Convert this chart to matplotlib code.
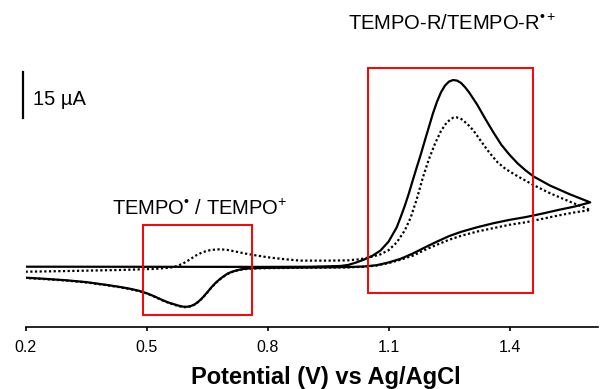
import matplotlib
matplotlib.use("Agg")
import matplotlib.pyplot as plt
from matplotlib.patches import Rectangle

plt.rcParams['font.family'] = ['Liberation Sans', 'DejaVu Sans']
plt.rcParams['mathtext.fontset'] = 'custom'
plt.rcParams['mathtext.rm'] = 'Liberation Sans'
plt.rcParams['mathtext.it'] = 'Liberation Sans'
plt.rcParams['mathtext.bf'] = 'Liberation Sans:bold'

# ---- data (potential in V vs Ag/AgCl, current in uA) ----
# solid CV: forward 0.2 -> 1.6 V, then reverse 1.6 -> 0.2 V
solid_v = [0.200, 0.500, 0.800, 0.900, 0.950, 0.980, 1.000, 1.020, 1.040, 1.060,
           1.080, 1.100, 1.120, 1.130, 1.140, 1.150, 1.160, 1.170, 1.180, 1.190,
           1.200, 1.210, 1.220, 1.230, 1.240, 1.250, 1.260, 1.270, 1.280, 1.290,
           1.300, 1.320, 1.340, 1.360, 1.380, 1.400, 1.420, 1.440, 1.460, 1.500,
           1.550, 1.600,
           1.560, 1.520, 1.480, 1.440, 1.400, 1.360, 1.320, 1.280, 1.250, 1.220,
           1.190, 1.160, 1.130, 1.100, 1.070, 1.040, 1.000, 0.900, 0.800, 0.780,
           0.760, 0.740, 0.725, 0.710, 0.700, 0.690, 0.680, 0.670, 0.660, 0.650,
           0.640, 0.630, 0.620, 0.610, 0.600, 0.590, 0.580, 0.570, 0.555, 0.540,
           0.520, 0.500, 0.480, 0.460, 0.430, 0.400, 0.350, 0.300, 0.250, 0.200]
solid_i = [0.42, 0.39, 0.36, 0.40, 0.55, 0.65, 1.00, 1.80, 2.80, 4.00,
           5.70, 8.60, 13.2, 16.6, 20.2, 24.2, 28.6, 32.9, 37.1, 41.6,
           46.0, 50.4, 54.2, 57.3, 59.5, 60.8, 61.3, 61.1, 60.3, 58.9,
           57.2, 53.2, 48.6, 44.2, 40.1, 36.9, 34.1, 31.8, 29.8, 26.9,
           24.0, 21.4,
           20.0, 18.9, 17.7, 16.6, 15.7, 14.6, 13.3, 11.8, 10.4, 8.6,
           6.7, 4.7, 3.0, 1.8, 0.9, 0.5, 0.3, 0.15, 0.05, 0.0,
           -0.1, -0.3, -0.7, -1.3, -1.9, -2.8, -3.8, -5.0, -6.4, -8.0,
           -9.5, -10.8, -11.8, -12.4, -12.65, -12.6, -12.3, -11.9, -11.3, -10.5,
           -9.3, -8.2, -7.4, -6.8, -6.1, -5.5, -4.6, -4.0, -3.55, -3.16]

# dotted CV (second scan)
dotted_v = [0.200, 0.300, 0.434, 0.520, 0.558, 0.575, 0.591, 0.605, 0.624, 0.640,
            0.660, 0.682, 0.700, 0.723, 0.745, 0.765, 0.800, 0.840, 0.880, 0.950,
            1.000, 1.029, 1.050, 1.079, 1.100, 1.120, 1.140, 1.155, 1.170, 1.185,
            1.200, 1.215, 1.230, 1.245, 1.260, 1.268, 1.280, 1.295, 1.310, 1.330,
            1.350, 1.370, 1.390, 1.420, 1.460, 1.500, 1.550, 1.600,
            1.560, 1.520, 1.480, 1.440, 1.400, 1.360, 1.320, 1.280, 1.250, 1.220,
            1.190, 1.160, 1.130, 1.100, 1.070, 1.040, 1.000, 0.900, 0.800, 0.780,
            0.760, 0.740, 0.725, 0.710, 0.700, 0.690, 0.680, 0.670, 0.660, 0.650,
            0.640, 0.630, 0.620, 0.610, 0.600, 0.590, 0.580, 0.570, 0.555, 0.540,
            0.520, 0.500, 0.480, 0.460, 0.430, 0.400, 0.350, 0.300, 0.250, 0.200]
dotted_i = [-1.21, -1.00, -0.65, -0.30, 0.10, 0.60, 1.50, 2.60, 4.20, 5.20,
            5.90, 6.10, 5.90, 5.30, 4.70, 4.24, 3.50, 2.90, 2.40, 2.40,
            2.50, 2.84, 3.40, 4.40, 5.80, 8.30, 12.2, 16.5, 22.5, 29.5,
            35.5, 40.5, 44.7, 47.6, 49.0, 49.15, 48.6, 47.0, 44.9, 41.2,
            37.6, 34.5, 32.3, 29.9, 27.0, 24.4, 21.6, 18.9,
            18.1, 17.1, 16.0, 14.9, 14.1, 13.0, 11.9, 10.5, 9.2, 7.6,
            5.9, 4.0, 2.7, 1.6, 0.8, 0.4, 0.2, 0.08, -0.05, -0.1,
            -0.2, -0.4, -0.8, -1.4, -2.0, -2.9, -3.9, -5.1, -6.5, -8.1,
            -9.6, -10.9, -11.9, -12.5, -12.8, -12.75, -12.45, -12.05, -11.4, -10.6,
            -9.4, -8.3, -7.5, -6.9, -6.2, -5.6, -4.7, -4.1, -3.65, -3.26]

tick_values = [0.2, 0.5, 0.8, 1.1, 1.4]
tick_labels = ['0.2', '0.5', '0.8', '1.1', '1.4']

W, H = 600, 389
fig = plt.figure(figsize=(W / 100, H / 100), dpi=100)
ax = fig.add_axes([25.6 / W, (H - 327.3) / H, 572.7 / W, 327.3 / H])
ax.set_xlim(0.2, 1.62)
ax.set_ylim(-19.34, 87.39)

ax.plot(solid_v, solid_i, color='black', lw=1.6, solid_joinstyle='round')
ax.plot(dotted_v, dotted_i, color='black', lw=1.6, linestyle=(0, (1, 1.1)))

# red boxes
ax.add_patch(Rectangle((0.4918, -15.33), 0.7606 - 0.4918, 14.02 + 15.33,
                       fill=False, edgecolor='#ff0000', lw=1.4, zorder=3))
ax.add_patch(Rectangle((1.0498, -8.25), 1.4589 - 1.0498, 65.12 + 8.25,
                       fill=False, edgecolor='#ff0000', lw=1.4, zorder=3))

# scale bar 15 uA
ax.plot([0.1943, 0.1943], [48.8, 63.8], color='black', lw=1.6, clip_on=False)

for s in ['top', 'right', 'left']:
    ax.spines[s].set_visible(False)
ax.spines['bottom'].set_linewidth(1.2)
ax.set_yticks([])
ax.set_xticks(tick_values)
ax.set_xticklabels(tick_labels, fontsize=11.5)
ax.tick_params(axis='x', direction='out', length=3, width=1.2, pad=6)

def ftext(x, y, s, **kw):
    fig.text(x / W, 1 - y / H, s, va='baseline', ha='left', **kw)

ftext(33.3, 105, '15 µA', fontsize=14.5)
ftext(348, 30, r'TEMPO-R/TEMPO-R$^{•+}$', fontsize=14.5)
ftext(111.7, 215, r'TEMPO$^{•}$ / TEMPO$^{+}$', fontsize=14.5)

fig.text(326 / W, 1 - 384 / H, 'Potential (V) vs Ag/AgCl', fontsize=17,
         fontweight='bold', ha='center', va='baseline')

fig.savefig('out.png', dpi=100)
